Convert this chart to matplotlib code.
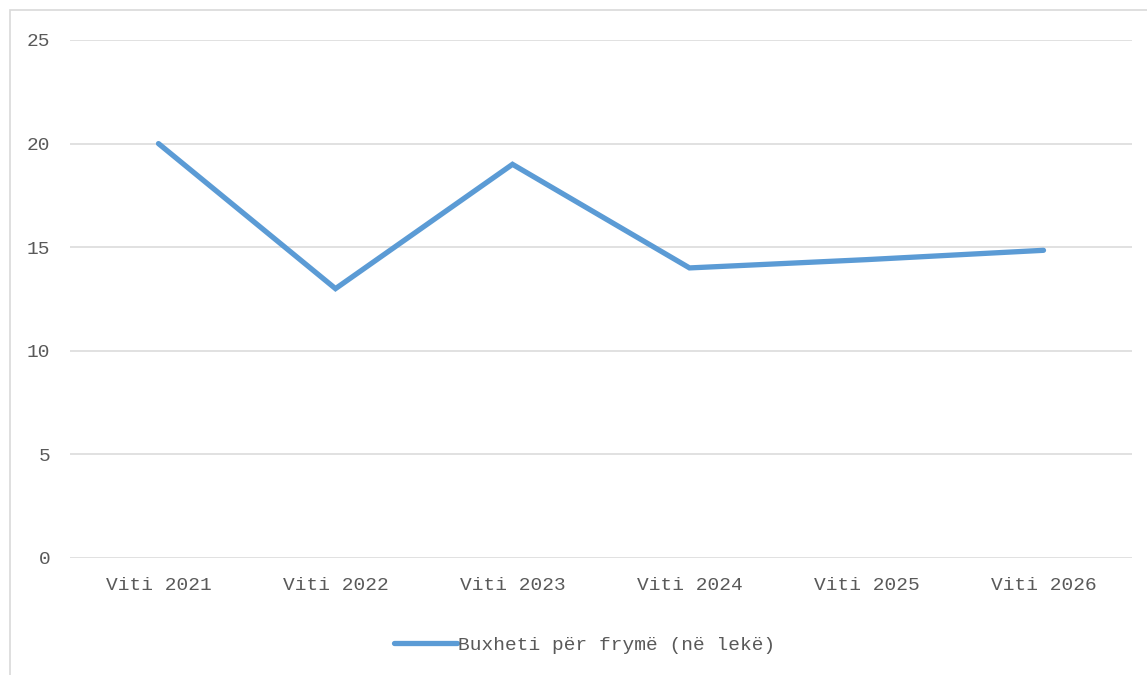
import matplotlib
matplotlib.use("Agg")
import matplotlib.pyplot as plt
from matplotlib.patches import Rectangle

categories = ["Viti 2021", "Viti 2022", "Viti 2023", "Viti 2024", "Viti 2025", "Viti 2026"]
values = [20.0, 13.0, 19.0, 14.0, 14.4, 14.85]
series_name = "Buxheti për frymë (në lekë)"
yticks = [0, 5, 10, 15, 20, 25]

W, H = 1147, 675
fig = plt.figure(figsize=(W / 100, H / 100), dpi=100)
fig.patch.set_facecolor("white")
fig.patches.append(Rectangle((10 / W, -0.01), 1.2, 1 - 10 / H + 0.01, transform=fig.transFigure,
                             fill=False, edgecolor="#d9d9d9", linewidth=1.2))

ax = fig.add_axes([70 / W, 117 / H, (1132 - 70) / W, (558 - 40) / H])
font = "Liberation Mono"
txtcolor = "#595959"

x = [i + 0.5 for i in range(len(categories))]
ax.plot(x, values, color="#5b9bd5", linewidth=3.8, solid_capstyle="round",
        solid_joinstyle="miter", label=series_name)
ax.set_xlim(0, len(categories))
ax.set_ylim(0, 25)
ax.set_yticks(yticks)
ax.set_yticklabels([str(v) for v in yticks], fontfamily=font, fontsize=14, color=txtcolor)
ax.set_xticks(x)
ax.set_xticklabels(categories, fontfamily=font, fontsize=14, color=txtcolor)
ax.tick_params(axis="both", length=0)
ax.tick_params(axis="y", pad=14)
ax.tick_params(axis="x", pad=14)
ax.grid(axis="y", color="#d9d9d9", linewidth=1.1)
ax.set_axisbelow(True)
for s in ax.spines.values():
    s.set_visible(False)

leg = fig.legend(loc="center", bbox_to_anchor=(585 / W, 1 - 645 / H), frameon=False,
                 prop={"family": font, "size": 14}, handlelength=3.2, handletextpad=0.1)
for t in leg.get_texts():
    t.set_color(txtcolor)

fig.savefig("out.png", dpi=100, facecolor="white")
